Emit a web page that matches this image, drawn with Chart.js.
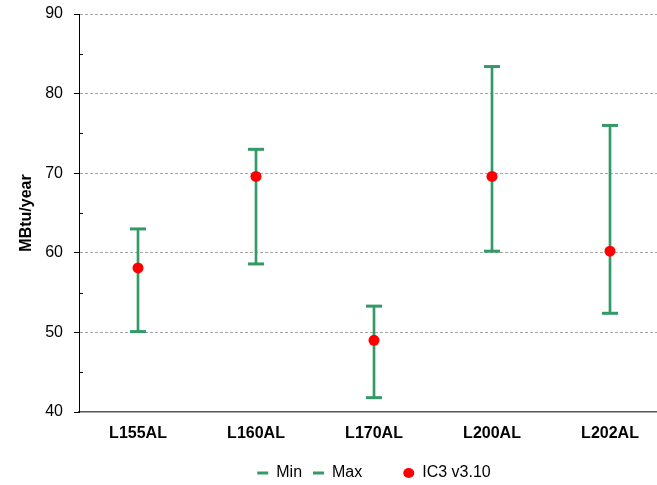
<!DOCTYPE html>
<html>
<head>
<meta charset="utf-8">
<script src="https://cdn.jsdelivr.net/npm/chart.js@4/dist/chart.umd.min.js"></script>
<style>
  html, body { margin: 0; padding: 0; background: #fff; overflow: hidden; }
  #wrap { width: 680px; height: 485px; }
</style>
</head>
<body>
<div id="wrap"><canvas id="c" width="680" height="485"></canvas></div>
<script>
const categories = ['L155AL', 'L160AL', 'L170AL', 'L200AL', 'L202AL'];
const minValues = [50.1, 58.6, 41.8, 60.2, 52.4];
const maxValues = [63.0, 73.0, 53.3, 83.4, 76.0];
const ic3Values = [58.1, 69.6, 49.0, 69.6, 60.2];
const yTicks = [40, 50, 60, 70, 80, 90];
const yMinorTicks = [45, 55, 65, 75, 85];
const seriesNames = ['Min', 'Max', 'IC3 v3.10'];
const yTitle = 'MBtu/year';

const GREEN = '#339966';
const RED = '#ff0000';
const FONT = "'Liberation Sans', Arial, sans-serif";

const minorTicks = {
  id: 'minorTicks',
  afterDraw(chart) {
    const y = chart.scales.y;
    const ctx = chart.ctx;
    ctx.save();
    ctx.strokeStyle = '#000';
    ctx.lineWidth = 1;
    yMinorTicks.forEach(v => {
      const py = Math.round(y.getPixelForValue(v)) + 0.5;
      ctx.beginPath();
      ctx.moveTo(y.right, py);
      ctx.lineTo(y.right + 4, py);
      ctx.stroke();
    });
    ctx.restore();
  }
};

new Chart(document.getElementById('c'), {
  data: {
    labels: categories,
    datasets: [
      {
        type: 'bar',
        label: 'range',
        data: minValues.map((v, i) => [v, maxValues[i]]),
        backgroundColor: GREEN,
        borderWidth: 0,
        barThickness: 2,
        order: 3
      },
      {
        type: 'line',
        label: seriesNames[0],
        data: minValues,
        showLine: false,
        pointStyle: 'line',
        pointRadius: 8,
        pointHoverRadius: 8,
        pointBorderWidth: 3,
        pointBorderColor: GREEN,
        pointBackgroundColor: GREEN,
        borderColor: GREEN,
        order: 2
      },
      {
        type: 'line',
        label: seriesNames[1],
        data: maxValues,
        showLine: false,
        pointStyle: 'line',
        pointRadius: 8,
        pointHoverRadius: 8,
        pointBorderWidth: 3,
        pointBorderColor: GREEN,
        pointBackgroundColor: GREEN,
        borderColor: GREEN,
        order: 2
      },
      {
        type: 'line',
        label: seriesNames[2],
        data: ic3Values,
        showLine: false,
        pointStyle: 'circle',
        pointRadius: 5.5,
        pointHoverRadius: 5.5,
        pointBorderWidth: 0,
        pointBackgroundColor: RED,
        pointBorderColor: RED,
        borderColor: RED,
        order: 1
      }
    ]
  },
  options: {
    responsive: false,
    devicePixelRatio: 1,
    animation: false,
    events: [],
    layout: { padding: { left: 0, right: 9, top: 14, bottom: -6 } },
    plugins: {
      tooltip: { enabled: false },
      legend: {
        position: 'bottom',
        fullSize: false,
        onClick: null,
        labels: {
          usePointStyle: true,
          pointStyleWidth: 11,
          boxHeight: 7,
          padding: 11,
          color: '#000',
          font: { family: FONT, size: 16 },
          generateLabels: () => [
            { text: seriesNames[0], fillStyle: GREEN, strokeStyle: GREEN, lineWidth: 3, pointStyle: 'line', fontColor: '#000' },
            { text: seriesNames[1], fillStyle: GREEN, strokeStyle: GREEN, lineWidth: 3, pointStyle: 'line', fontColor: '#000' },
            { text: '', fillStyle: 'rgba(0,0,0,0)', strokeStyle: 'rgba(0,0,0,0)', lineWidth: 0, pointStyle: 'circle', fontColor: '#000' },
            { text: seriesNames[2], fillStyle: RED, strokeStyle: RED, lineWidth: 0, pointStyle: 'circle', fontColor: '#000' }
          ]
        }
      }
    },
    scales: {
      x: {
        type: 'category',
        offset: true,
        grid: { display: false, drawOnChartArea: false, drawTicks: false },
        border: { display: true, color: '#555', width: 1.5 },
        ticks: {
          color: '#000',
          padding: 12,
          font: { family: FONT, size: 16, weight: 'bold' },
          maxRotation: 0
        },
        afterFit(scale) { scale.height = 42; scale.paddingLeft = 0; scale.paddingRight = 0; }
      },
      y: {
        min: 40,
        max: 90,
        afterBuildTicks(scale) { scale.ticks = yTicks.map(v => ({ value: v })); },
        ticks: {
          color: '#000',
          padding: 11,
          font: { family: FONT, size: 16 }
        },
        grid: {
          color: ctx => (ctx.tick && ctx.tick.value === 40) ? 'rgba(0,0,0,0)' : '#a6a6a6',
          lineWidth: 1,
          drawTicks: true,
          tickLength: 5,
          tickColor: '#000',
          tickWidth: 1
        },
        border: { display: true, color: '#000', width: 1, dash: [3, 2] },
        title: {
          display: true,
          text: yTitle,
          color: '#000',
          font: { family: FONT, size: 16, weight: 'bold' },
          padding: { top: 17, bottom: 0 }
        },
        afterFit(scale) { scale.width = 79; scale.paddingTop = 0; scale.paddingBottom = 0; }
      }
    }
  },
  plugins: [minorTicks]
});
</script>
</body>
</html>
